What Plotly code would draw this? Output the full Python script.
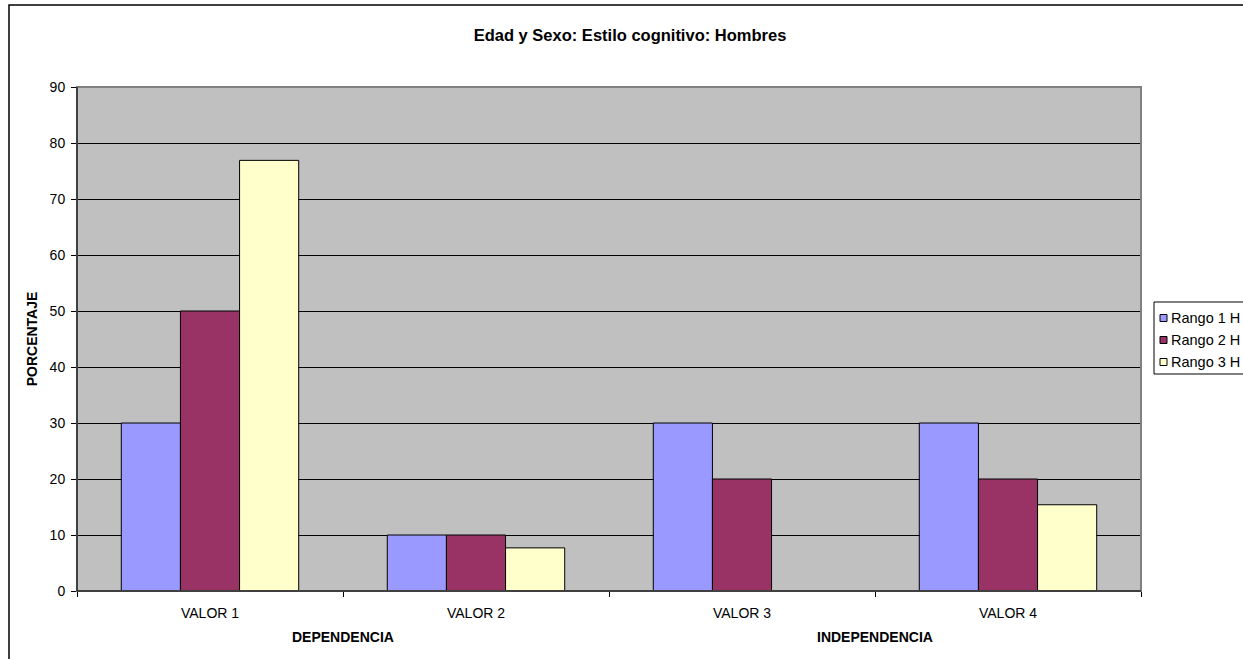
import plotly.graph_objects as go

categorias = ["VALOR 1", "VALOR 2", "VALOR 3", "VALOR 4"]
rango_1_h = [30, 10, 30, 30]
rango_2_h = [50, 10, 20, 20]
rango_3_h = [76.9, 7.7, 0, 15.4]

grupos = ["DEPENDENCIA", "INDEPENDENCIA"]
grupos_pos = [0.5, 2.5]

series = [
    ("Rango 1 H", rango_1_h, "#9999FF"),
    ("Rango 2 H", rango_2_h, "#993366"),
    ("Rango 3 H", rango_3_h, "#FFFFCC"),
]

FONT = "Liberation Sans, Arial, sans-serif"

# la figura es más ancha que la ventana: el marco queda cortado como en el original
W, H = 1290, 659
L, R, T, B = 77, 1290 - 1141, 87, 659 - 591
PW, PH = W - L - R, H - T - B


def px(x):
    return (x - L) / PW


def py(y):
    return (H - B - y) / PH


fig = go.Figure()
for nombre, valores, color in series:
    fig.add_trace(go.Bar(
        x=categorias, y=valores, name=nombre, showlegend=False,
        marker=dict(color=color, line=dict(color="black", width=1)),
    ))

fig.update_layout(
    width=W, height=H,
    margin=dict(l=L, r=R, t=T, b=B),
    paper_bgcolor="white",
    plot_bgcolor="#C0C0C0",
    barmode="group",
    bargap=0.333,
    bargroupgap=0,
    font=dict(family=FONT, size=14, color="black"),
    title=dict(
        text="<b>Edad y Sexo: Estilo cognitivo: Hombres</b>",
        x=px(630), xanchor="center", xref="paper",
        y=1 - 35 / H, yanchor="middle",
        font=dict(size=16.5, family=FONT, color="black"),
    ),
)

fig.update_yaxes(
    range=[0, 90], dtick=10,
    showgrid=True, gridcolor="black", gridwidth=1,
    showline=True, linecolor="black", linewidth=1,
    ticks="outside", ticklen=5, tickcolor="black",
    ticklabelstandoff=3,
    zeroline=False,
    title=dict(text="<b>PORCENTAJE</b>", font=dict(size=14, family=FONT), standoff=8),
)
fig.update_xaxes(
    showgrid=False,
    showline=True, linecolor="black", linewidth=1,
    ticks="outside", ticklen=5, tickcolor="black",
    ticklabelstandoff=9,
    tickson="boundaries",
)

# borde gris del área de trazado
fig.add_shape(type="rect", xref="paper", yref="paper", x0=0, x1=1, y0=0, y1=1,
              line=dict(color="#808080", width=2), layer="above")
# eje izquierdo y eje inferior negros encima
fig.add_shape(type="line", xref="paper", yref="paper", x0=0, x1=0, y0=0, y1=1,
              line=dict(color="black", width=1), layer="above")
fig.add_shape(type="line", xref="paper", yref="paper", x0=0, x1=1, y0=0, y1=0,
              line=dict(color="black", width=1), layer="above")

# borde del área del gráfico
fig.add_shape(type="rect", xref="paper", yref="paper",
              x0=px(9), x1=px(1300), y0=py(700), y1=py(5),
              line=dict(color="black", width=1.5), layer="above")

for g, pos in zip(grupos, grupos_pos):
    fig.add_annotation(
        text=f"<b>{g}</b>", x=pos, xref="x", y=py(637), yref="paper",
        showarrow=False, font=dict(size=14, family=FONT, color="black"),
        yanchor="middle",
    )

# leyenda al estilo Excel (recortada por el borde derecho)
fig.add_shape(type="rect", xref="paper", yref="paper",
              x0=px(1154), x1=px(1300), y0=py(374), y1=py(302),
              line=dict(color="black", width=1), fillcolor="white", layer="above")
for i, (nombre, _, color) in enumerate(series):
    yc = 318 + 22 * i
    fig.add_shape(type="rect", xref="paper", yref="paper",
                  x0=px(1160), x1=px(1167), y0=py(yc + 3.5), y1=py(yc - 3.5),
                  line=dict(color="black", width=1), fillcolor=color, layer="above")
    fig.add_annotation(
        text=nombre, x=px(1169), xref="paper", y=py(yc), yref="paper",
        xanchor="left", yanchor="middle", showarrow=False,
        font=dict(size=14.5, family=FONT, color="black"),
    )

fig.write_html(
    "out.html",
    config={"displayModeBar": False},
    post_script="document.body.style.margin='0';document.body.style.overflow='hidden';",
)
